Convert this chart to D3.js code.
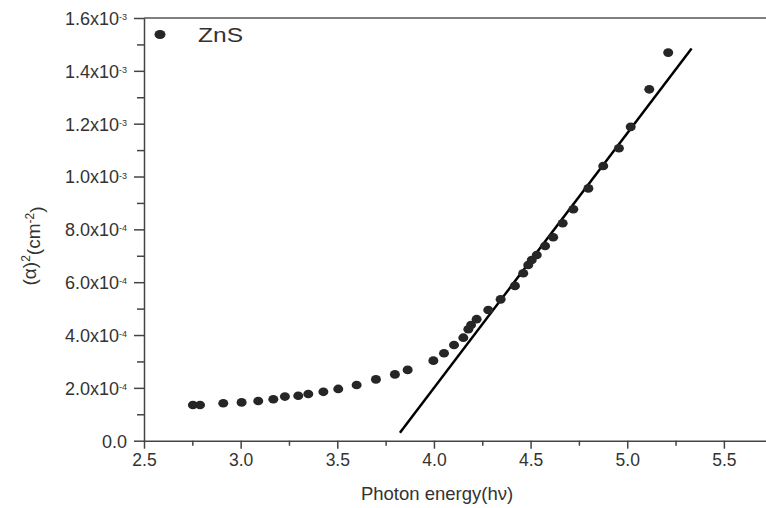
<!DOCTYPE html>
<html>
<head>
<meta charset="utf-8">
<script src="https://cdn.jsdelivr.net/npm/d3@7"></script>
<style>
  body { margin: 0; background: #fff; }
  svg { display: block; font-family: "Liberation Sans", Arial, sans-serif; }
</style>
</head>
<body>
<svg id="chart" width="766" height="508"></svg>
<script>
// ZnS absorption data
const photonEnergy = [2.753, 2.790, 2.910, 3.005, 3.091, 3.169, 3.229, 3.298, 3.350, 3.428,
    3.505, 3.600, 3.700, 3.798, 3.864, 3.997, 4.052, 4.104, 4.152, 4.178,
    4.192, 4.221, 4.281, 4.345, 4.419, 4.462, 4.488, 4.506, 4.532, 4.575,
    4.617, 4.666, 4.721, 4.799, 4.876, 4.957, 5.018, 5.114, 5.212];
const alphaSq = [1.35e-4, 1.35e-4, 1.42e-4, 1.45e-4, 1.50e-4, 1.57e-4, 1.67e-4, 1.70e-4, 1.77e-4, 1.85e-4,
    1.96e-4, 2.11e-4, 2.32e-4, 2.51e-4, 2.68e-4, 3.03e-4, 3.31e-4, 3.62e-4, 3.90e-4, 4.22e-4,
    4.38e-4, 4.60e-4, 4.95e-4, 5.35e-4, 5.86e-4, 6.34e-4, 6.65e-4, 6.84e-4, 7.03e-4, 7.37e-4,
    7.70e-4, 8.23e-4, 8.76e-4, 9.55e-4, 1.040e-3, 1.107e-3, 1.188e-3, 1.330e-3, 1.469e-3];

// linear fit (Tauc extrapolation)
const fitX = [3.824, 5.333];
const fitY = [3.0e-5, 1.485e-3];

const xTicks = [2.5, 3.0, 3.5, 4.0, 4.5, 5.0, 5.5];
const xMinorTicks = [2.75, 3.25, 3.75, 4.25, 4.75, 5.25];
const yTicks = [0, 2e-4, 4e-4, 6e-4, 8e-4, 1.0e-3, 1.2e-3, 1.4e-3, 1.6e-3];
const yMinorTicks = [1e-4, 3e-4, 5e-4, 7e-4, 9e-4, 1.1e-3, 1.3e-3, 1.5e-3];

const seriesName = "ZnS";

const svg = d3.select("#chart");
const mLeft = 144, mRight = 766.4, mTop = 18, mBottom = 440.7;
const axisColor = "#444";

const x = d3.scaleLinear().domain([2.5, 5.72]).range([mLeft, mRight]);
const y = d3.scaleLinear().domain([0, 1.6e-3]).range([mBottom, mTop]);

// top border
svg.append("line")
    .attr("x1", mLeft).attr("x2", mRight)
    .attr("y1", mTop).attr("y2", mTop)
    .attr("stroke", "#555").attr("stroke-width", 1.6);

// minor ticks first
svg.append("g")
    .attr("transform", `translate(0,${mBottom})`)
    .call(d3.axisBottom(x).tickValues(xMinorTicks).tickSize(5).tickFormat(""))
    .call(g => g.select(".domain").remove())
    .call(g => g.selectAll("line").attr("stroke", axisColor).attr("stroke-width", 1.5));

svg.append("g")
    .attr("transform", `translate(${mLeft},0)`)
    .call(d3.axisLeft(y).tickValues(yMinorTicks).tickSize(7).tickFormat(""))
    .call(g => g.select(".domain").remove())
    .call(g => g.selectAll("line").attr("stroke", axisColor).attr("stroke-width", 1.5));

// x axis
svg.append("g")
    .attr("transform", `translate(0,${mBottom})`)
    .call(d3.axisBottom(x).tickValues(xTicks).tickSize(8).tickPadding(5).tickSizeOuter(0)
        .tickFormat(d3.format(".1f")))
    .call(g => g.select(".domain").attr("stroke", axisColor).attr("stroke-width", 1.5))
    .call(g => g.selectAll(".tick line").attr("stroke", axisColor).attr("stroke-width", 1.5))
    .call(g => g.selectAll("text").attr("font-size", 17.5).attr("fill", "#333")
        .attr("font-family", "Liberation Sans, Arial, sans-serif"));

// y axis, labels like 1.6x10^-3
const yAxis = svg.append("g")
    .attr("transform", `translate(${mLeft},0)`)
    .call(d3.axisLeft(y).tickValues(yTicks).tickSize(10).tickSizeOuter(0).tickFormat(""))
    .call(g => g.select(".domain").attr("stroke", axisColor).attr("stroke-width", 1.5))
    .call(g => g.selectAll(".tick line").attr("stroke", axisColor).attr("stroke-width", 1.5));

yAxis.selectAll(".tick").each(function(d) {
    const t = d3.select(this).append("text")
        .attr("x", -17)
        .attr("dy", "0.36em")
        .attr("text-anchor", "end")
        .attr("fill", "#333")
        .attr("font-size", 18)
        .attr("font-family", "Liberation Sans, Arial, sans-serif");
    if (d === 0) {
        t.text("0.0");
        return;
    }
    const exp = Math.floor(Math.log10(d) + 1e-9);
    const mant = d / Math.pow(10, exp);
    t.append("tspan").text(mant.toFixed(1) + "x10");
    t.append("tspan").attr("dy", "-0.55em").attr("font-size", 9).text(exp);
});

// fit line
svg.append("line")
    .attr("x1", x(fitX[0])).attr("y1", y(fitY[0]))
    .attr("x2", x(fitX[1])).attr("y2", y(fitY[1]))
    .attr("stroke", "#000")
    .attr("stroke-width", 2.5);

// data points
svg.append("g")
    .selectAll("ellipse")
    .data(photonEnergy.map((e, i) => ({e, a: alphaSq[i]})))
    .join("ellipse")
    .attr("cx", d => x(d.e))
    .attr("cy", d => y(d.a))
    .attr("rx", 5)
    .attr("ry", 4.3)
    .attr("fill", "#262626");

// legend
svg.append("ellipse")
    .attr("cx", 160).attr("cy", 34.5)
    .attr("rx", 5.5).attr("ry", 4.5)
    .attr("fill", "#262626");
svg.append("text")
    .attr("x", 198).attr("y", 41.5)
    .attr("font-size", 20)
    .attr("textLength", 45)
    .attr("lengthAdjust", "spacingAndGlyphs")
    .attr("fill", "#333")
    .text(seriesName);

// axis titles
svg.append("text")
    .attr("x", 437).attr("y", 500)
    .attr("text-anchor", "middle")
    .attr("font-size", 18.5)
    .attr("fill", "#333")
    .text("Photon energy(hν)");

const yt = svg.append("text")
    .attr("transform", "translate(36,246) rotate(-90)")
    .attr("text-anchor", "middle")
    .attr("font-size", 19)
    .attr("fill", "#333");
yt.append("tspan").text("(α)");
yt.append("tspan").attr("dy", "-0.5em").attr("font-size", 12).text("2");
yt.append("tspan").attr("dy", "0.5em").text("(cm");
yt.append("tspan").attr("dy", "-0.5em").attr("font-size", 12).text("-2");
yt.append("tspan").attr("dy", "0.5em").text(")");
</script>
</body>
</html>
